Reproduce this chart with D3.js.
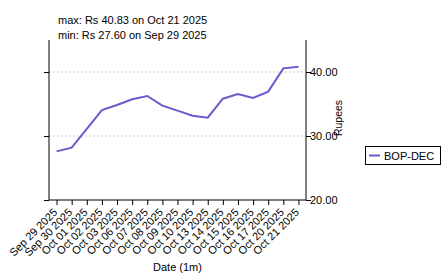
<!DOCTYPE html>
<html><head><meta charset="utf-8">
<script src="https://cdn.jsdelivr.net/npm/d3@7"></script>
<style>body{margin:0;background:#fff;} svg{display:block;} text{font-family:"Liberation Sans",Arial,sans-serif;}</style>
</head><body>
<script>
const dates = ["Sep 29 2025","Sep 30 2025","Oct 01 2025","Oct 02 2025","Oct 03 2025","Oct 06 2025","Oct 07 2025","Oct 08 2025","Oct 09 2025","Oct 10 2025","Oct 13 2025","Oct 14 2025","Oct 15 2025","Oct 16 2025","Oct 17 2025","Oct 20 2025","Oct 21 2025"];
const values = [27.60,28.18,31.1,34.06,34.84,35.73,36.25,34.74,33.96,33.18,32.87,35.83,36.56,35.94,36.93,40.57,40.83];
const yTicks = [20,30,40];
const seriesName = "BOP-DEC";
const titleLines = ["max: Rs 40.83 on Oct 21 2025","min: Rs 27.60 on Sep 29 2025"];

const W=443,H=275;
const m={l:49,r:306,t:40,b:200};
const svg=d3.select("body").append("svg").attr("width",W).attr("height",H);
const x=d3.scalePoint().domain(dates).range([m.l,m.r]).padding(0.5);
const y=d3.scaleLinear().domain([20,45]).range([m.b,m.t]);

// grid
svg.append("g").selectAll("line").data([30,40]).join("line")
  .attr("x1",m.l).attr("x2",m.r).attr("y1",d=>y(d)).attr("y2",d=>y(d))
  .attr("stroke","#c8c8c8").attr("stroke-dasharray","2,2").attr("stroke-width",1);

// axes
const gl=svg.append("g").attr("transform",`translate(${m.l},0)`)
  .call(d3.axisLeft(y).tickValues(yTicks).tickSize(5).tickFormat(""));
const gr=svg.append("g").attr("transform",`translate(${m.r},0)`)
  .call(d3.axisRight(y).tickValues(yTicks).tickSize(5).tickFormat(d3.format(".2f")));
const gb=svg.append("g").attr("transform",`translate(0,${m.b})`)
  .call(d3.axisBottom(x).tickSize(5).tickSizeOuter(0));
[gl,gr,gb].forEach(g=>{g.select(".domain").attr("stroke","#000");g.selectAll(".tick line").attr("stroke","#000");});
gl.select(".domain").attr("d",`M0,${m.t}V${m.b}`);
gr.select(".domain").attr("d",`M0,${m.t}V${m.b}`);
gb.select(".domain").attr("d",`M${m.l},0H${m.r}`);
gr.selectAll(".tick text").attr("font-size",11).attr("fill","#000").attr("x",4).attr("font-family","Liberation Sans, Arial, sans-serif");
gb.selectAll(".tick text").attr("font-size",11).attr("fill","#000")
  .attr("text-anchor","end").attr("dy","0").attr("y",0)
  .attr("transform","translate(1,13) rotate(-45)").attr("font-family","Liberation Sans, Arial, sans-serif");

// line
svg.append("path").datum(values)
  .attr("fill","none").attr("stroke","#6a5acd").attr("stroke-width",2)
  .attr("d",d3.line().x((d,i)=>x(dates[i])).y(d=>y(d)));

// titles
svg.selectAll(".ttl").data(titleLines).join("text").attr("class","ttl")
  .attr("x",58).attr("y",(d,i)=>24+i*15).attr("font-size",11).text(d=>d);

// axis labels
svg.append("text").attr("x",(m.l+m.r)/2).attr("y",271).attr("text-anchor","middle").attr("font-size",11).text("Date (1m)");
svg.append("text").attr("transform",`translate(342,118) rotate(-90)`).attr("text-anchor","middle").attr("font-size",10.5).text("Rupees");

// legend
const lg=svg.append("g");
lg.append("rect").attr("x",365.5).attr("y",146.5).attr("width",75).attr("height",18).attr("fill","#fff").attr("stroke","#000");
lg.append("line").attr("x1",369).attr("x2",380).attr("y1",155.5).attr("y2",155.5).attr("stroke","#6a5acd").attr("stroke-width",2);
lg.append("text").attr("x",384).attr("y",159.5).attr("font-size",11).text(seriesName);
</script>
</body></html>
